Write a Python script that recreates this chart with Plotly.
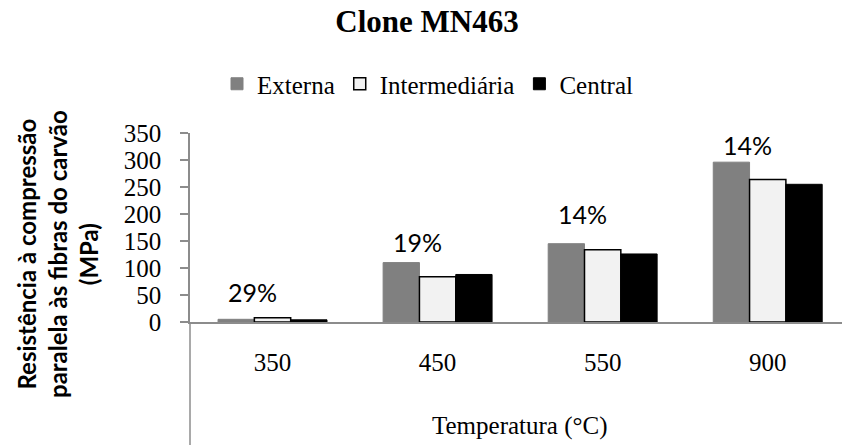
import plotly.graph_objects as go

categories = ["350", "450", "550", "900"]
externa = [5, 110, 145, 296]
intermediaria = [8, 84, 134, 264]
central = [4, 88, 126, 255]
pct_labels = ["29%", "19%", "14%", "14%"]
pct_label_y = [56, 148, 200, 328]
y_ticks = [0, 50, 100, 150, 200, 250, 300, 350]

W, H = 842, 445
ML, MR, MT, MB = 190, 0, 133, 123
PW, PH = W - ML - MR, H - MT - MB
AXIS_GRAY = "#8c8c8c"
SERIF = "Liberation Serif"
SANS = "Lato"


def px_to_paper_x(px):
    return (px - ML) / PW


def px_to_paper_y(py):
    return (H - MB - py) / PH


fig = go.Figure()
fig.add_bar(name="Externa", x=categories, y=externa,
            marker=dict(color="#808080", line=dict(color="#808080", width=1)))
fig.add_bar(name="Intermediária", x=categories, y=intermediaria,
            marker=dict(color="#f2f2f2", line=dict(color="#000000", width=1.5)))
fig.add_bar(name="Central", x=categories, y=central,
            marker=dict(color="#000000", line=dict(color="#000000", width=1)))

for i, (t, yv) in enumerate(zip(pct_labels, pct_label_y)):
    fig.add_annotation(x=i, y=yv, xref="x", yref="y", text=t, showarrow=False,
                       xshift=-20, font=dict(family=SANS, size=25, color="#000"))

# y-axis title (Excel style, bold sans)
fig.add_annotation(x=px_to_paper_x(57), y=px_to_paper_y(254), xref="paper", yref="paper",
                   text="Resistência à compressão<br>paralela às fibras do carvão<br>(MPa)",
                   textangle=-90, showarrow=False, xanchor="center", yanchor="middle",
                   font=dict(family=SANS, size=24, color="#000", weight="bold"))

# x-axis title
fig.add_annotation(x=px_to_paper_x(520), y=px_to_paper_y(426), xref="paper", yref="paper",
                   text="Temperatura (°C)", showarrow=False, yanchor="middle",
                   font=dict(family=SERIF, size=25, color="#000"))

# vertical axis line extension below the category axis
fig.add_shape(type="line", xref="paper", yref="paper", x0=0, x1=0,
              y0=0, y1=px_to_paper_y(H), line=dict(color=AXIS_GRAY, width=1.5))

fig.update_layout(
    width=W, height=H,
    margin=dict(l=ML, r=MR, t=MT, b=MB, pad=0),
    paper_bgcolor="white", plot_bgcolor="white",
    barmode="group", bargap=0.34, bargroupgap=0,
    title=dict(text="<b>Clone MN463</b>", x=427 / W, xanchor="center",
               y=1 - 21 / H, yanchor="middle", xref="container", yref="container",
               font=dict(family=SERIF, size=31, color="#000")),
    legend=dict(orientation="h", x=428 / W, xanchor="center", y=1 - 84 / H,
                yanchor="middle", xref="container", yref="container",
                font=dict(family=SERIF, size=25, color="#000"),
                itemwidth=30, traceorder="normal"),
    xaxis=dict(type="category", range=[-0.5, 3.45], showline=True,
               linecolor=AXIS_GRAY, linewidth=1.5, ticks="", showgrid=False,
               tickfont=dict(family=SERIF, size=25, color="#000"),
               ticklabelstandoff=17),
    yaxis=dict(range=[0, 350], tickvals=y_ticks, showline=True,
               linecolor=AXIS_GRAY, linewidth=1.5, ticks="outside", ticklen=8,
               tickcolor=AXIS_GRAY, tickwidth=1.5, showgrid=False, zeroline=False,
               tickfont=dict(family=SERIF, size=25, color="#000"),
               ticklabelstandoff=14),
)

fig.write_html("out.html")
